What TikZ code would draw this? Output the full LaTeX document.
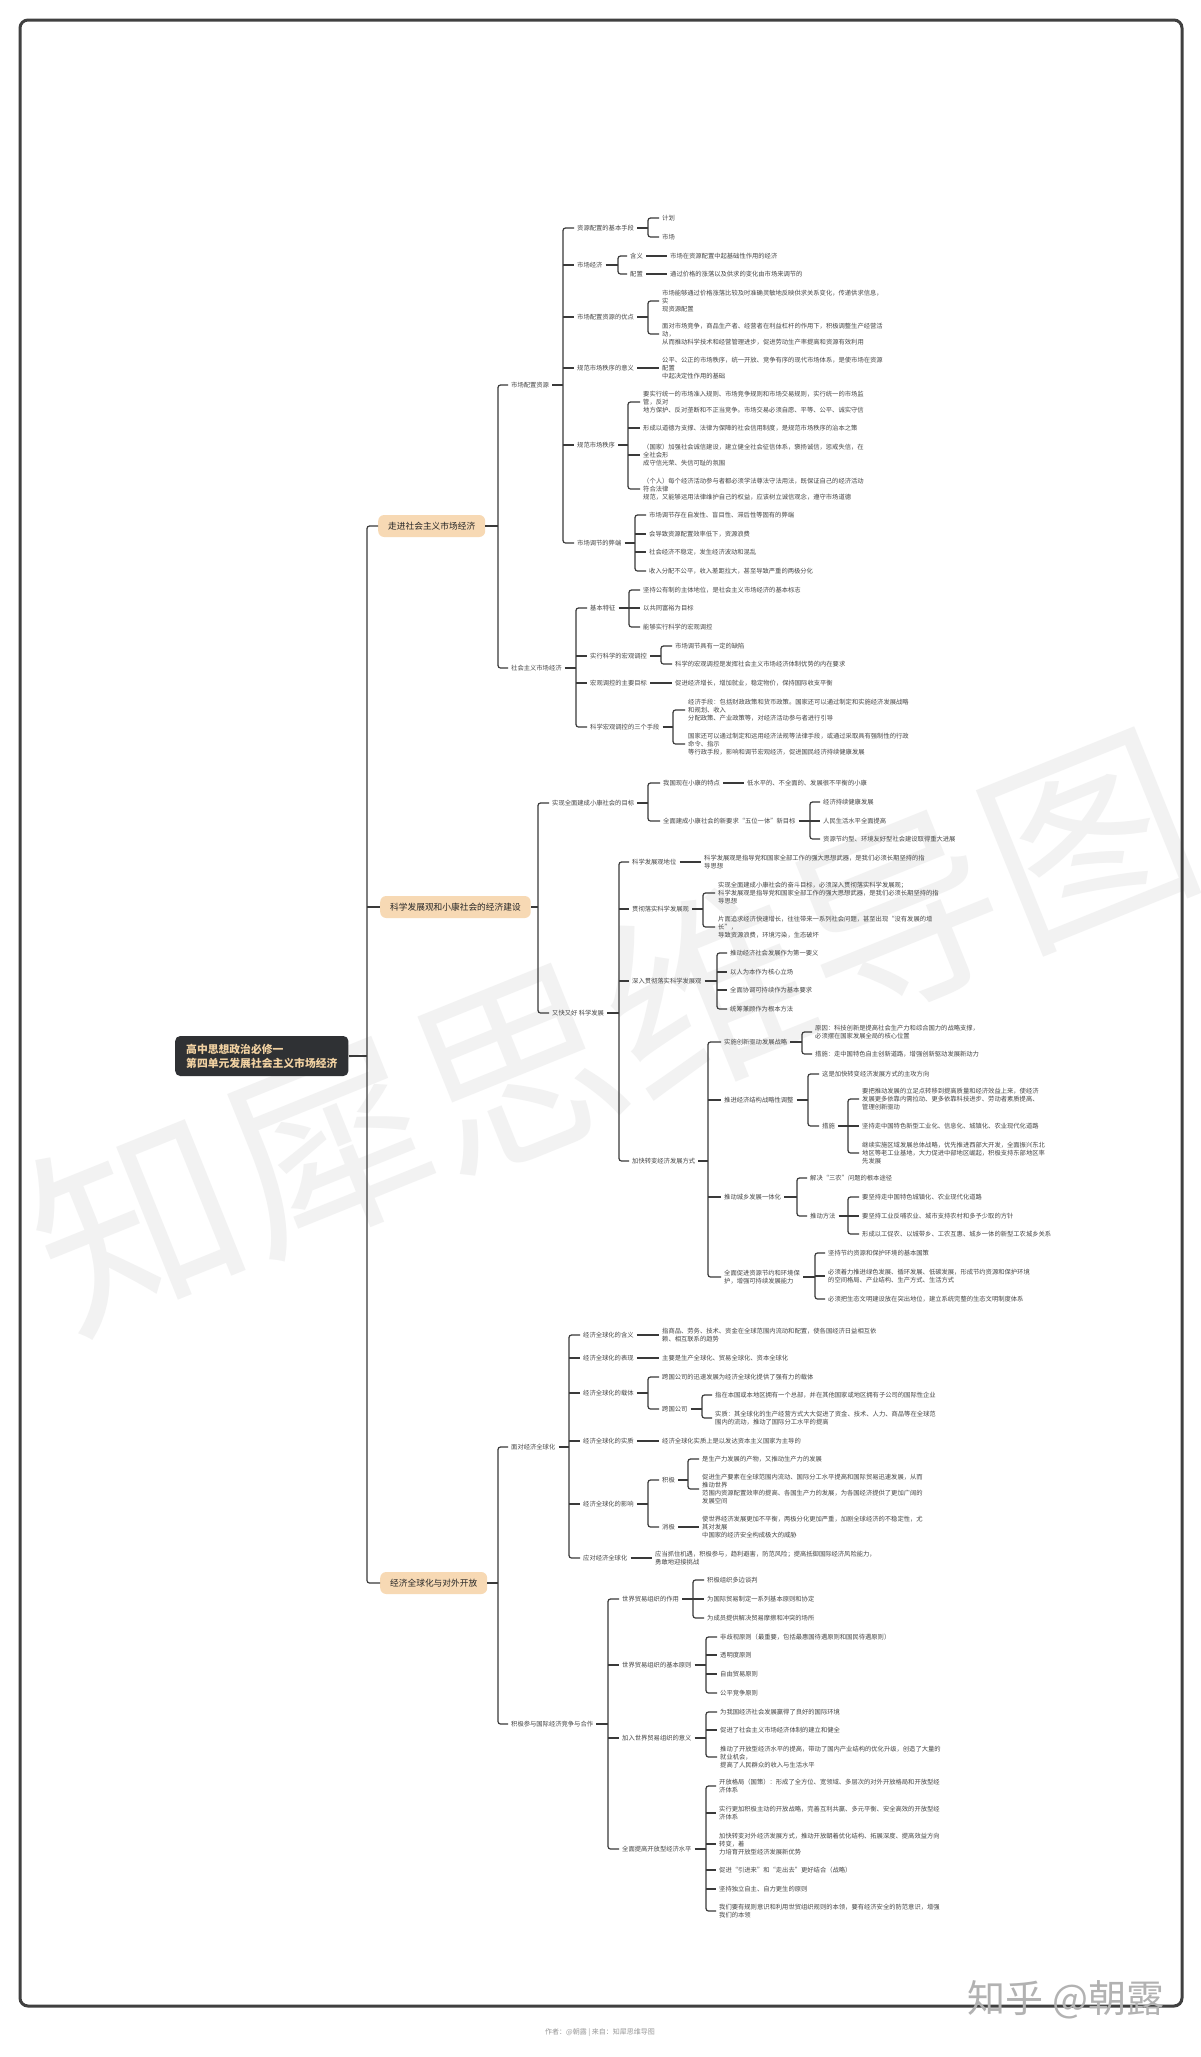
\documentclass[tikz,border=0pt]{standalone}
\usepackage{fontspec}
\setmainfont{Noto Sans CJK SC}
\usetikzlibrary{calc}
\definecolor{peach}{HTML}{F7D9B4}
\definecolor{rootbg}{HTML}{2F3134}
\definecolor{roottx}{HTML}{F2D2A2}
\definecolor{ln}{HTML}{3A3A3A}
\definecolor{tx}{HTML}{454545}
\newcommand\jn[2]{\path let \p1=(#1.east) in coordinate (#1j) at (#2pt,\y1); \draw[cn] (#1.east) -- (#1j);}
\newcommand\br[3]{\draw[cn,rounded corners=2.5pt] (#2.west) -| (#1j) |- (#3.west);}
\newcommand\tk[2]{\draw[cn] (#1j |- #2.west) -- (#2.west);}
\newcommand\one[2]{\draw[cn] (#1.east) -- (#2.west);}
\begin{document}
\begin{tikzpicture}[x=1pt,y=-1pt,
  lf/.style={anchor=west,xshift=-3pt,inner xsep=3pt,inner ysep=1pt,align=left,text=tx,font=\fontsize{6.3}{8}\selectfont},
  lv1/.style={anchor=west,fill=peach,rounded corners=6pt,inner xsep=10pt,minimum height=22pt,text=black!85,font=\fontsize{8.7}{10}\selectfont},
  rt/.style={anchor=west,fill=rootbg,rounded corners=5pt,inner xsep=11pt,minimum height=40pt,align=left,text=roottx,font=\fontsize{10.8}{14}\selectfont\bfseries},
  cn/.style={draw=ln,line width=1.2pt}]
\useasboundingbox (0,0) rectangle (1200,2057);
\fill[white] (0,0) rectangle (1200,2057);
\node[rotate=22,text=black!5,font=\fontsize{205}{205}\selectfont] (wm) at (612,1030) {知犀思维导图};
\draw[line width=3pt,draw=black!75,rounded corners=8pt] (20,20) rectangle (1182,2006);
\node[text=black!30,font=\fontsize{38}{38}\selectfont] (zh) at (1066,2000) {知乎 @朝露};
\node[text=black!40,font=\fontsize{7}{8}\selectfont] (ft) at (600,2033) {作者：@朝露 | 来自：知犀思维导图};

% root and level 1
\node[rt] (root) at (175,1056) {高中思想政治必修一\\第四单元发展社会主义市场经济};
\node[lv1] (A) at (378,526) {走进社会主义市场经济};
\node[lv1] (B) at (380,907) {科学发展观和小康社会的经济建设};
\node[lv1] (C) at (380,1583) {经济全球化与对外开放};

% ---------- Section A
\node[lf] (A1) at (511,385) {市场配置资源};
\node[lf] (A2) at (511,668) {社会主义市场经济};
\node[lf] (A1a) at (577,228) {资源配置的基本手段};
\node[lf] (A1a1) at (662,218) {计划};
\node[lf] (A1a2) at (662,237) {市场};
\node[lf] (A1b) at (577,265) {市场经济};
\node[lf] (A1b1) at (630,256) {含义};
\node[lf] (A1b2) at (630,274) {配置};
\node[lf] (A1b1x) at (670,256) {市场在资源配置中起基础性作用的经济};
\node[lf] (A1b2x) at (670,274) {通过价格的涨落以及供求的变化由市场来调节的};
\node[lf] (A1c) at (577,317) {市场配置资源的优点};
\node[lf] (A1c1) at (662,301) {市场能够通过价格涨落比较及时准确灵敏地反映供求关系变化，传递供求信息，\\实\\现资源配置};
\node[lf] (A1c2) at (662,334) {面对市场竞争，商品生产者、经营者在利益杠杆的作用下，积极调整生产经营活\\动，\\从而推动科学技术和经营管理进步，促进劳动生产率提高和资源有效利用};
\node[lf] (A1d) at (577,368) {规范市场秩序的意义};
\node[lf] (A1d1) at (662,368) {公平、公正的市场秩序，统一开放、竞争有序的现代市场体系，是使市场在资源\\配置\\中起决定性作用的基础};
\node[lf] (A1e) at (577,445) {规范市场秩序};
\node[lf] (A1e1) at (643,402) {要实行统一的市场准入规则、市场竞争规则和市场交易规则，实行统一的市场监\\管，反对\\地方保护、反对垄断和不正当竞争。市场交易必须自愿、平等、公平、诚实守信};
\node[lf] (A1e2) at (643,428) {形成以道德为支撑、法律为保障的社会信用制度，是规范市场秩序的治本之策};
\node[lf] (A1e3) at (643,455) {（国家）加强社会诚信建设，建立健全社会征信体系，褒扬诚信，惩戒失信，在\\全社会形\\成守信光荣、失信可耻的氛围};
\node[lf] (A1e4) at (643,489) {（个人）每个经济活动参与者都必须学法尊法守法用法，既保证自己的经济活动\\符合法律\\规范，又能够运用法律维护自己的权益，应该树立诚信观念，遵守市场道德};
\node[lf] (A1f) at (577,543) {市场调节的弊端};
\node[lf] (A1f1) at (649,515) {市场调节存在自发性、盲目性、滞后性等固有的弊端};
\node[lf] (A1f2) at (649,534) {会导致资源配置效率低下，资源浪费};
\node[lf] (A1f3) at (649,552) {社会经济不稳定，发生经济波动和混乱};
\node[lf] (A1f4) at (649,571) {收入分配不公平，收入差距拉大，甚至导致严重的两极分化};
\node[lf] (A2a) at (590,608) {基本特征};
\node[lf] (A2a1) at (643,590) {坚持公有制的主体地位，是社会主义市场经济的基本标志};
\node[lf] (A2a2) at (643,608) {以共同富裕为目标};
\node[lf] (A2a3) at (643,627) {能够实行科学的宏观调控};
\node[lf] (A2b) at (590,656) {实行科学的宏观调控};
\node[lf] (A2b1) at (675,646) {市场调节具有一定的缺陷};
\node[lf] (A2b2) at (675,664) {科学的宏观调控是发挥社会主义市场经济体制优势的内在要求};
\node[lf] (A2c) at (590,683) {宏观调控的主要目标};
\node[lf] (A2c1) at (675,683) {促进经济增长，增加就业，稳定物价，保持国际收支平衡};
\node[lf] (A2d) at (590,727) {科学宏观调控的三个手段};
\node[lf] (A2d1) at (688,710) {经济手段：包括财政政策和货币政策。国家还可以通过制定和实施经济发展战略\\和规划、收入\\分配政策、产业政策等，对经济活动参与者进行引导};
\node[lf] (A2d2) at (688,744) {国家还可以通过制定和运用经济法规等法律手段，或通过采取具有强制性的行政\\命令、指示\\等行政手段，影响和调节宏观经济，促进国民经济持续健康发展};

% ---------- Section B
\node[lf] (B1) at (552,803) {实现全面建成小康社会的目标};
\node[lf] (B2) at (552,1013) {又快又好 科学发展};
\node[lf] (B1a) at (663,783) {我国现在小康的特点};
\node[lf] (B1a1) at (747,783) {低水平的、不全面的、发展很不平衡的小康};
\node[lf] (B1b) at (663,821) {全面建成小康社会的新要求“五位一体”新目标};
\node[lf] (B1b1) at (823,802) {经济持续健康发展};
\node[lf] (B1b2) at (823,821) {人民生活水平全面提高};
\node[lf] (B1b3) at (823,839) {资源节约型、环境友好型社会建设取得重大进展};
\node[lf] (B2a) at (632,862) {科学发展观地位};
\node[lf] (B2a1) at (704,862) {科学发展观是指导党和国家全部工作的强大思想武器，是我们必须长期坚持的指\\导思想};
\node[lf] (B2b) at (632,909) {贯彻落实科学发展观};
\node[lf] (B2b1) at (718,893) {实现全面建成小康社会的奋斗目标，必须深入贯彻落实科学发展观；\\科学发展观是指导党和国家全部工作的强大思想武器，是我们必须长期坚持的指\\导思想};
\node[lf] (B2b2) at (718,927) {片面追求经济快速增长，往往带来一系列社会问题，甚至出现“没有发展的增\\长”，\\导致资源浪费，环境污染，生态破坏};
\node[lf] (B2c) at (632,981) {深入贯彻落实科学发展观};
\node[lf] (B2c1) at (730,953) {推动经济社会发展作为第一要义};
\node[lf] (B2c2) at (730,972) {以人为本作为核心立场};
\node[lf] (B2c3) at (730,990) {全面协调可持续作为基本要求};
\node[lf] (B2c4) at (730,1009) {统筹兼顾作为根本方法};
\node[lf] (B2d) at (632,1161) {加快转变经济发展方式};
\node[lf] (B2d1) at (724,1042) {实施创新驱动发展战略};
\node[lf] (B2d1a) at (815,1032) {原因：科技创新是提高社会生产力和综合国力的战略支撑，\\必须摆在国家发展全局的核心位置};
\node[lf] (B2d1b) at (815,1054) {措施：走中国特色自主创新道路，增强创新驱动发展新动力};
\node[lf] (B2d2) at (724,1100) {推进经济结构战略性调整};
\node[lf] (B2d2a) at (822,1074) {这是加快转变经济发展方式的主攻方向};
\node[lf] (B2d2b) at (822,1126) {措施};
\node[lf] (B2d2b1) at (862,1099) {要把推动发展的立足点转移到提高质量和经济效益上来，使经济\\发展更多依靠内需拉动、更多依靠科技进步、劳动者素质提高、\\管理创新驱动};
\node[lf] (B2d2b2) at (862,1126) {坚持走中国特色新型工业化、信息化、城镇化、农业现代化道路};
\node[lf] (B2d2b3) at (862,1153) {继续实施区域发展总体战略，优先推进西部大开发，全面振兴东北\\地区等老工业基地，大力促进中部地区崛起，积极支持东部地区率\\先发展};
\node[lf] (B2d3) at (724,1197) {推动城乡发展一体化};
\node[lf] (B2d3a) at (810,1178) {解决“三农”问题的根本途径};
\node[lf] (B2d3b) at (810,1216) {推动方法};
\node[lf] (B2d3b1) at (862,1197) {要坚持走中国特色城镇化、农业现代化道路};
\node[lf] (B2d3b2) at (862,1216) {要坚持工业反哺农业、城市支持农村和多予少取的方针};
\node[lf] (B2d3b3) at (862,1234) {形成以工促农、以城带乡、工农互惠、城乡一体的新型工农城乡关系};
\node[lf] (B2d4) at (724,1277) {全面促进资源节约和环境保\\护，增强可持续发展能力};
\node[lf] (B2d4a) at (828,1253) {坚持节约资源和保护环境的基本国策};
\node[lf] (B2d4b) at (828,1276) {必须着力推进绿色发展、循环发展、低碳发展，形成节约资源和保护环境\\的空间格局、产业结构、生产方式、生活方式};
\node[lf] (B2d4c) at (828,1299) {必须把生态文明建设放在突出地位，建立系统完整的生态文明制度体系};

% ---------- Section C
\node[lf] (C1) at (511,1447) {面对经济全球化};
\node[lf] (C2) at (511,1724) {积极参与国际经济竞争与合作};
\node[lf] (C1a) at (583,1335) {经济全球化的含义};
\node[lf] (C1a1) at (662,1335) {指商品、劳务、技术、资金在全球范围内流动和配置，使各国经济日益相互依\\赖、相互联系的趋势};
\node[lf] (C1b) at (583,1358) {经济全球化的表现};
\node[lf] (C1b1) at (662,1358) {主要是生产全球化、贸易全球化、资本全球化};
\node[lf] (C1c) at (583,1393) {经济全球化的载体};
\node[lf] (C1c1) at (662,1377) {跨国公司的迅速发展为经济全球化提供了强有力的载体};
\node[lf] (C1c2) at (662,1409) {跨国公司};
\node[lf] (C1c2a) at (715,1395) {指在本国或本地区拥有一个总部，并在其他国家或地区拥有子公司的国际性企业};
\node[lf] (C1c2b) at (715,1418) {实质：其全球化的生产经营方式大大促进了资金、技术、人力、商品等在全球范\\围内的流动，推动了国际分工水平的提高};
\node[lf] (C1d) at (583,1441) {经济全球化的实质};
\node[lf] (C1d1) at (662,1441) {经济全球化实质上是以发达资本主义国家为主导的};
\node[lf] (C1e) at (583,1504) {经济全球化的影响};
\node[lf] (C1e1) at (662,1480) {积极};
\node[lf] (C1e1a) at (702,1459) {是生产力发展的产物，又推动生产力的发展};
\node[lf] (C1e1b) at (702,1489) {促进生产要素在全球范围内流动、国际分工水平提高和国际贸易迅速发展，从而\\推动世界\\范围内资源配置效率的提高、各国生产力的发展，为各国经济提供了更加广阔的\\发展空间};
\node[lf] (C1e2) at (662,1527) {消极};
\node[lf] (C1e2a) at (702,1527) {使世界经济发展更加不平衡，两极分化更加严重，加剧全球经济的不稳定性，尤\\其对发展\\中国家的经济安全构成极大的威胁};
\node[lf] (C1f) at (583,1558) {应对经济全球化};
\node[lf] (C1f1) at (655,1558) {应当抓住机遇，积极参与，趋利避害，防范风险；提高抵御国际经济风险能力，\\勇敢地迎接挑战};
\node[lf] (C2a) at (622,1599) {世界贸易组织的作用};
\node[lf] (C2a1) at (707,1580) {积极组织多边谈判};
\node[lf] (C2a2) at (707,1599) {为国际贸易制定一系列基本原则和协定};
\node[lf] (C2a3) at (707,1618) {为成员提供解决贸易摩擦和冲突的场所};
\node[lf] (C2b) at (622,1665) {世界贸易组织的基本原则};
\node[lf] (C2b1) at (720,1637) {非歧视原则（最重要，包括最惠国待遇原则和国民待遇原则）};
\node[lf] (C2b2) at (720,1655) {透明度原则};
\node[lf] (C2b3) at (720,1674) {自由贸易原则};
\node[lf] (C2b4) at (720,1693) {公平竞争原则};
\node[lf] (C2c) at (622,1738) {加入世界贸易组织的意义};
\node[lf] (C2c1) at (720,1712) {为我国经济社会发展赢得了良好的国际环境};
\node[lf] (C2c2) at (720,1730) {促进了社会主义市场经济体制的建立和健全};
\node[lf] (C2c3) at (720,1757) {推动了开放型经济水平的提高，带动了国内产业结构的优化升级，创造了大量的\\就业机会，\\提高了人民群众的收入与生活水平};
\node[lf] (C2d) at (622,1849) {全面提高开放型经济水平};
\node[lf] (C2d1) at (719,1786) {开放格局（国策）：形成了全方位、宽领域、多层次的对外开放格局和开放型经\\济体系};
\node[lf] (C2d2) at (719,1813) {实行更加积极主动的开放战略，完善互利共赢、多元平衡、安全高效的开放型经\\济体系};
\node[lf] (C2d3) at (719,1844) {加快转变对外经济发展方式，推动开放朝着优化结构、拓展深度、提高效益方向\\转变，着\\力培育开放型经济发展新优势};
\node[lf] (C2d4) at (719,1870) {促进“引进来”和“走出去”更好结合（战略）};
\node[lf] (C2d5) at (719,1889) {坚持独立自主、自力更生的原则};
\node[lf] (C2d6) at (719,1911) {我们要有规则意识和利用世贸组织规则的本领，要有经济安全的防范意识，增强\\我们的本领};

% ---------- connectors
\jn{root}{367} \br{root}{A}{C} \tk{root}{B}
\jn{A}{498} \br{A}{A1}{A2}
\jn{A1}{563} \br{A1}{A1a}{A1f} \tk{A1}{A1b} \tk{A1}{A1c} \tk{A1}{A1d} \tk{A1}{A1e}
\jn{A1a}{648} \br{A1a}{A1a1}{A1a2}
\jn{A1b}{618} \br{A1b}{A1b1}{A1b2}
\one{A1b1}{A1b1x} \one{A1b2}{A1b2x}
\jn{A1c}{648} \br{A1c}{A1c1}{A1c2}
\one{A1d}{A1d1}
\jn{A1e}{628} \br{A1e}{A1e1}{A1e4} \tk{A1e}{A1e2} \tk{A1e}{A1e3}
\jn{A1f}{635} \br{A1f}{A1f1}{A1f4} \tk{A1f}{A1f2} \tk{A1f}{A1f3}
\jn{A2}{576} \br{A2}{A2a}{A2d} \tk{A2}{A2b} \tk{A2}{A2c}
\jn{A2a}{629} \br{A2a}{A2a1}{A2a3} \tk{A2a}{A2a2}
\jn{A2b}{661} \br{A2b}{A2b1}{A2b2}
\one{A2c}{A2c1}
\jn{A2d}{673} \br{A2d}{A2d1}{A2d2}

\jn{B}{538} \br{B}{B1}{B2}
\jn{B1}{648} \br{B1}{B1a}{B1b}
\one{B1a}{B1a1}
\jn{B1b}{810} \br{B1b}{B1b1}{B1b3} \tk{B1b}{B1b2}
\jn{B2}{619} \br{B2}{B2a}{B2d} \tk{B2}{B2b} \tk{B2}{B2c}
\one{B2a}{B2a1}
\jn{B2b}{703} \br{B2b}{B2b1}{B2b2}
\jn{B2c}{717} \br{B2c}{B2c1}{B2c4} \tk{B2c}{B2c2} \tk{B2c}{B2c3}
\jn{B2d}{708} \br{B2d}{B2d1}{B2d4} \tk{B2d}{B2d2} \tk{B2d}{B2d3}
\jn{B2d1}{802} \br{B2d1}{B2d1a}{B2d1b}
\jn{B2d2}{808} \br{B2d2}{B2d2a}{B2d2b}
\jn{B2d2b}{848} \br{B2d2b}{B2d2b1}{B2d2b3} \tk{B2d2b}{B2d2b2}
\jn{B2d3}{797} \br{B2d3}{B2d3a}{B2d3b}
\jn{B2d3b}{848} \br{B2d3b}{B2d3b1}{B2d3b3} \tk{B2d3b}{B2d3b2}
\jn{B2d4}{815} \br{B2d4}{B2d4a}{B2d4c} \tk{B2d4}{B2d4b}

\jn{C}{498} \br{C}{C1}{C2}
\jn{C1}{569} \br{C1}{C1a}{C1f} \tk{C1}{C1b} \tk{C1}{C1c} \tk{C1}{C1d} \tk{C1}{C1e}
\one{C1a}{C1a1} \one{C1b}{C1b1}
\jn{C1c}{648} \br{C1c}{C1c1}{C1c2}
\jn{C1c2}{702} \br{C1c2}{C1c2a}{C1c2b}
\one{C1d}{C1d1}
\jn{C1e}{648} \br{C1e}{C1e1}{C1e2}
\jn{C1e1}{688} \br{C1e1}{C1e1a}{C1e1b}
\one{C1e2}{C1e2a}
\one{C1f}{C1f1}
\jn{C2}{608} \br{C2}{C2a}{C2d} \tk{C2}{C2b} \tk{C2}{C2c}
\jn{C2a}{693} \br{C2a}{C2a1}{C2a3} \tk{C2a}{C2a2}
\jn{C2b}{706} \br{C2b}{C2b1}{C2b4} \tk{C2b}{C2b2} \tk{C2b}{C2b3}
\jn{C2c}{706} \br{C2c}{C2c1}{C2c3} \tk{C2c}{C2c2}
\jn{C2d}{706} \br{C2d}{C2d1}{C2d6} \tk{C2d}{C2d2} \tk{C2d}{C2d3} \tk{C2d}{C2d4} \tk{C2d}{C2d5}
\end{tikzpicture}
\end{document}
